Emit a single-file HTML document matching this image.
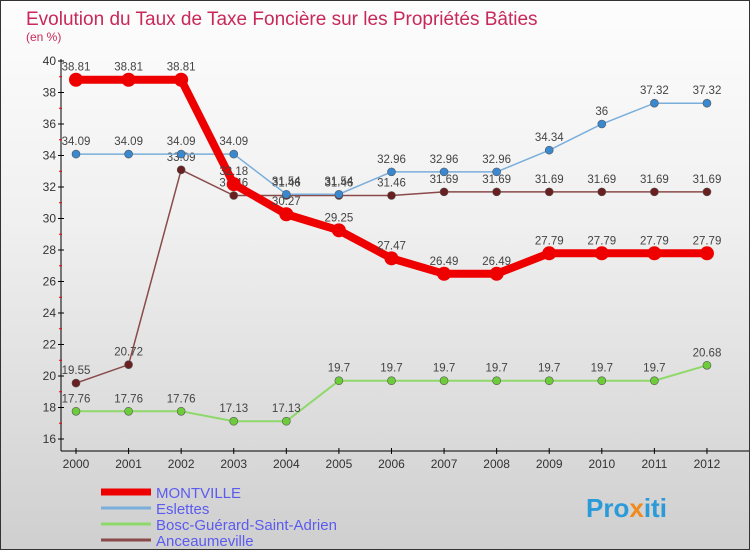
<!DOCTYPE html>
<html><head><meta charset="utf-8"><style>
body{margin:0;width:750px;height:550px;overflow:hidden;font-family:"Liberation Sans",sans-serif}
#wrap{position:relative;width:748px;height:548px;border:1px solid #333;background:linear-gradient(#fdfdfd,#f0f0f0 40%,#cfcfcf)}
</style></head><body>
<div id="wrap">
<svg width="748" height="548" id="svg">
<text x="25" y="24" font-size="19" fill="#c8285a">Evolution du Taux de Taxe Foncière sur les Propriétés Bâties</text>
<text x="25" y="40" font-size="12" fill="#c8285a">(en %)</text>
<g id="g"></g>
<text x="585" y="516" font-size="26" font-weight="bold" fill="#2a9ad8">Pro<tspan fill="#f08a1c">x</tspan>iti</text>
</svg></div>
<script>
const years=["2000","2001","2002","2003","2004","2005","2006","2007","2008","2009","2010","2011","2012"];
const yTicks=[16,18,20,22,24,26,28,30,32,34,36,38,40];
const montville=[38.81,38.81,38.81,32.18,30.27,29.25,27.47,26.49,26.49,27.79,27.79,27.79,27.79];
const eslettes=[34.09,34.09,34.09,34.09,31.54,31.54,32.96,32.96,32.96,34.34,36,37.32,37.32];
const bosc=[17.76,17.76,17.76,17.13,17.13,19.7,19.7,19.7,19.7,19.7,19.7,19.7,20.68];
const ancea=[19.55,20.72,33.09,31.46,31.46,31.46,31.46,31.69,31.69,31.69,31.69,31.69,31.69];
const names=["MONTVILLE","Eslettes","Bosc-Guérard-Saint-Adrien","Anceaumeville"];
const NS="http://www.w3.org/2000/svg",g=document.getElementById('g');
const X=i=>75+i*52.58, Y=v=>60+(40-v)*15.75;
function mk(t,a,p){const e=document.createElementNS(NS,t);for(const k in a)e.setAttribute(k,a[k]);(p||g).appendChild(e);return e;}
let e=mk('line',{x1:60,y1:58,x2:60,y2:450,stroke:'#000'});

e=mk('line',{x1:60,y1:450,x2:748,y2:450,stroke:'#000'});

yTicks.forEach(v=>{mk('line',{x1:57,y1:Y(v),x2:63,y2:Y(v),stroke:'#000'});
 if(v<40)mk('line',{x1:58,y1:Y(v+1),x2:61,y2:Y(v+1),stroke:'#e00'});
 const t=mk('text',{x:55,y:Y(v)+4,'font-size':12,fill:'#333','text-anchor':'end'});t.textContent=v;
 });
years.forEach((y,i)=>{mk('line',{x1:X(i),y1:447,x2:X(i),y2:453,stroke:'#000'});
 const t=mk('text',{x:X(i),y:467,'font-size':12,fill:'#333','text-anchor':'middle'});t.textContent=y;
 });
const series=[[bosc,'#8fd86a','#6ccc3a',2,4],[ancea,'#8a4a4a','#6a2020',1.5,4],[eslettes,'#7aaedb','#3a88d0',1.5,4],[montville,'#ee0000','#ee0000',8,7]];
series.forEach(([d,c,fc,w,r],k)=>{
 const p=mk('polyline',{points:d.map((v,i)=>X(i)+','+Y(v)).join(' '),fill:'none',stroke:c,'stroke-width':w});
 
 d.forEach((v,i)=>{const m=mk('circle',{cx:X(i),cy:Y(v),r:r,fill:fc,stroke:'#555','stroke-width':k==3?0:0.6});
  
  const t=mk('text',{x:X(i),y:Y(v)-9,'font-size':11.5,fill:'#444','text-anchor':'middle'});t.textContent=v;
  });
});
const lc=['#ee0000','#7aaedb','#8fd86a','#8a4a4a'],lw=[7,3,3,3];
names.forEach((n,i)=>{const y=491+i*16;
 const l=mk('line',{x1:100,y1:y,x2:150,y2:y,stroke:lc[i],'stroke-width':lw[i]});
 
 const t=mk('text',{x:155,y:y+6,'font-size':15,fill:'#5b5bf0'});t.textContent=n;
 });
</script></body></html>
